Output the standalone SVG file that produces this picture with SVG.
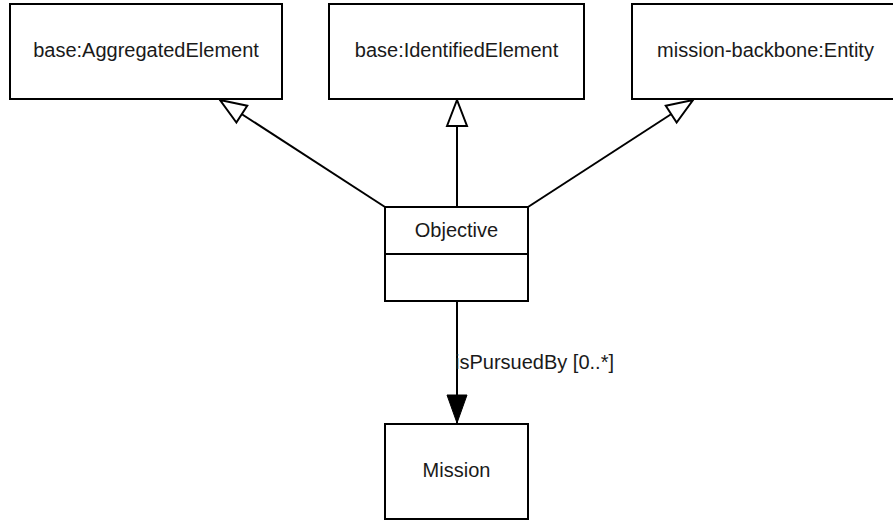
<svg xmlns="http://www.w3.org/2000/svg" width="893" height="521" viewBox="0 0 893 521">
<defs>
<style>
.box{fill:#fff;stroke:#000;stroke-width:2}
.lbl{font-family:"Liberation Sans",Arial,sans-serif;font-size:20px;fill:#1a1a1a;text-anchor:middle}
.elbl{font-family:"Liberation Sans",Arial,sans-serif;font-size:20px;fill:#1a1a1a}
.edge{fill:none;stroke:#000;stroke-width:2}
</style>
<marker id="gen" markerUnits="userSpaceOnUse" markerWidth="30" markerHeight="24" refX="27" refY="12" orient="auto" overflow="visible">
<path d="M1,2 L27,12 L1,22 Z" fill="#fff" stroke="#000" stroke-width="2"/>
</marker>
<marker id="nav" markerUnits="userSpaceOnUse" markerWidth="30" markerHeight="24" refX="28" refY="12" orient="auto" overflow="visible">
<path d="M0,2 L28,12 L0,22 Z" fill="#000" stroke="#000" stroke-width="1"/>
</marker>
</defs>
<rect width="893" height="521" fill="#fff"/>
<g id="edges">
<line class="edge" x1="385" y1="207" x2="220" y2="100" marker-end="url(#gen)"/>
<line class="edge" x1="457" y1="207" x2="457" y2="100" marker-end="url(#gen)"/>
<line class="edge" x1="528" y1="207" x2="693" y2="100" marker-end="url(#gen)"/>
<line class="edge" x1="457" y1="301" x2="457" y2="423" marker-end="url(#nav)"/>
<text class="elbl" x="455" y="369">isPursuedBy [0..*]</text>
</g>
<g id="AggregatedElement">
<rect class="box" x="10" y="4" width="272" height="95"/>
<text class="lbl" x="146" y="57">base:AggregatedElement</text>
</g>
<g id="IdentifiedElement">
<rect class="box" x="329" y="4" width="255" height="95"/>
<text class="lbl" x="456.5" y="57">base:IdentifiedElement</text>
</g>
<g id="Entity">
<rect class="box" x="632" y="4" width="267" height="95"/>
<text class="lbl" x="765.5" y="57">mission-backbone:Entity</text>
</g>
<g id="Objective">
<rect class="box" x="385" y="207" width="143" height="94"/>
<line class="edge" x1="385" y1="254" x2="528" y2="254"/>
<text class="lbl" x="456.5" y="237">Objective</text>
</g>
<g id="Mission">
<rect class="box" x="385" y="424" width="143" height="95"/>
<text class="lbl" x="456.5" y="477">Mission</text>
</g>
</svg>
